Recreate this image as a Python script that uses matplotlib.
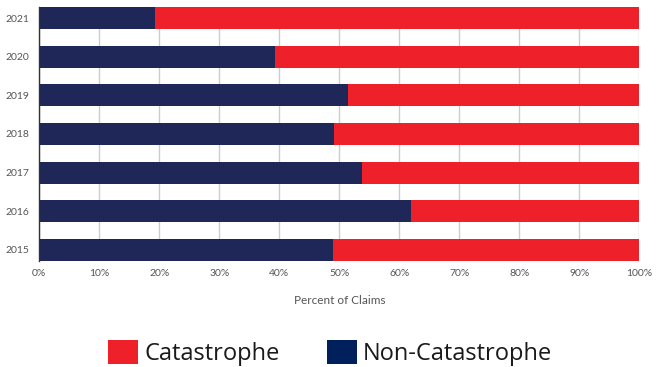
import matplotlib
matplotlib.use("Agg")
import matplotlib.pyplot as plt
from matplotlib.patches import Patch
import numpy as np

years = ["2015", "2016", "2017", "2018", "2019", "2020", "2021"]
non_cat = [48.9, 62.0, 53.8, 49.1, 51.4, 39.3, 19.3]
cat = [100 - v for v in non_cat]
xticks = [0, 10, 20, 30, 40, 50, 60, 70, 80, 90, 100]
xlabels = [f"{t}%" for t in xticks]

NAVY = "#1E2757"
RED = "#EE2029"
LEG_NAVY = "#00205B"

plt.rcParams["font.family"] = ["Lato", "DejaVu Sans"]

fig = plt.figure(figsize=(6.62, 3.67), dpi=100)
ax = fig.add_axes([39.3 / 662, 1 - 261 / 367, 600 / 662, 254 / 367])

y = np.arange(len(years))
h = 0.57
ax.barh(y, non_cat, height=h, color=NAVY, zorder=3)
ax.barh(y, cat, left=non_cat, height=h, color=RED, zorder=3)

ax.set_xlim(0, 100)
ax.set_ylim(-h / 2, len(years) - 1 + h / 2)
ax.set_yticks(y)
ax.set_yticklabels(years)
ax.set_xticks(xticks)
ax.set_xticklabels(xlabels)
ax.tick_params(axis="both", length=0, labelsize=7.5, colors="#555555")
ax.tick_params(axis="y", pad=7)
ax.tick_params(axis="x", pad=6)
ax.grid(axis="x", color="#cccccc", linewidth=1, zorder=0)
for s in ["top", "right", "bottom"]:
    ax.spines[s].set_visible(False)
ax.spines["left"].set_color("#333333")
ax.spines["left"].set_linewidth(1)
ax.spines["left"].set_zorder(4)
ax.set_xlabel("Percent of Claims", fontsize=8.5, color="#555555", labelpad=12)

handles = [Patch(facecolor=RED, label="Catastrophe"),
           Patch(facecolor=LEG_NAVY, label="Non-Catastrophe")]
fig.legend(handles=handles, loc="center", bbox_to_anchor=(330 / 662, 1 - 353 / 367),
           ncol=2, frameon=False, prop={"family": "Open Sans", "size": 17},
           handlelength=1.27, handleheight=1.19,
           handletextpad=0.25, columnspacing=2.0, borderpad=0, labelcolor="#1a1a1a")

fig.savefig("out.png", dpi=100)
